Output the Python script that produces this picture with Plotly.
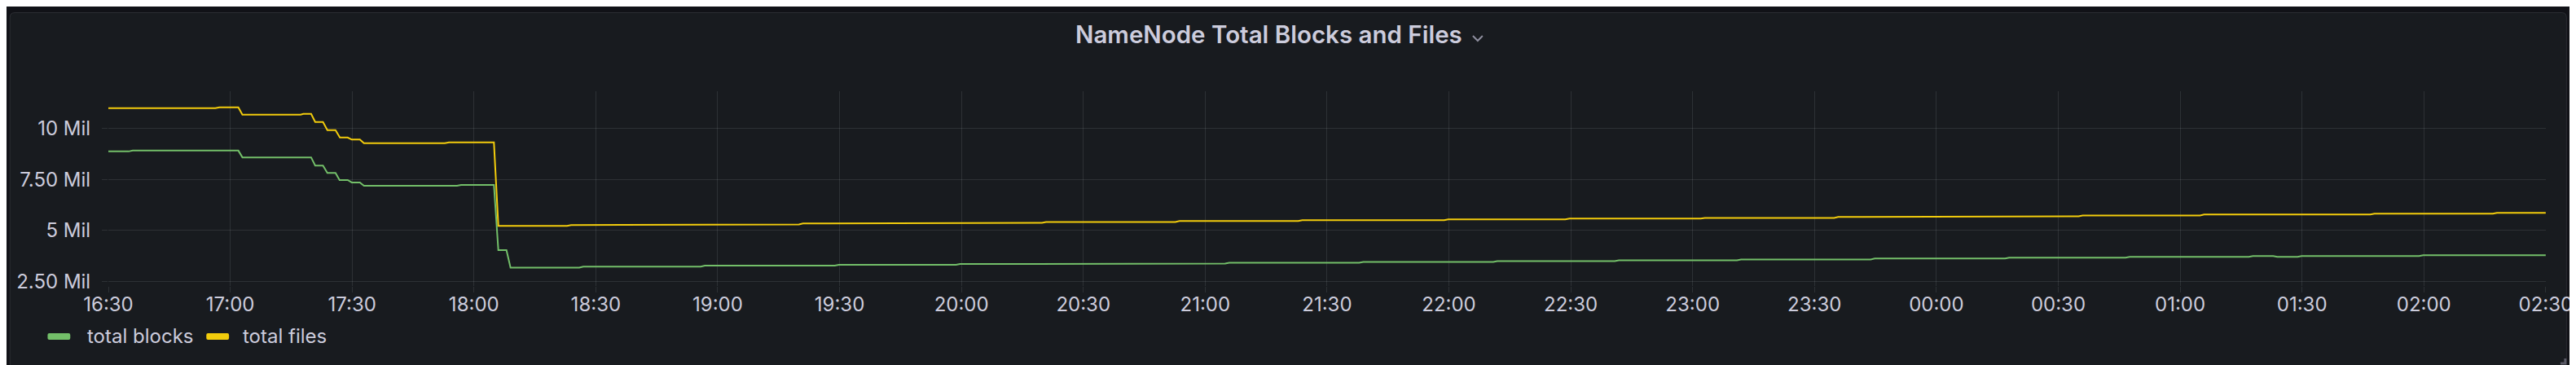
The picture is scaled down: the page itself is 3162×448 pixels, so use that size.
import plotly.graph_objects as go
from datetime import datetime, timedelta

# ---------------- data (values in millions) ----------------
D1 = "2024-01-01 "
D2 = "2024-01-02 "

files_time = [
    D1 + "16:30:00", D1 + "16:56:20", D1 + "16:57:20", D1 + "17:02:00", D1 + "17:03:00",
    D1 + "17:17:20", D1 + "17:18:00", D1 + "17:19:55", D1 + "17:20:55", D1 + "17:22:50",
    D1 + "17:23:55", D1 + "17:25:55", D1 + "17:27:00", D1 + "17:28:55", D1 + "17:29:55",
    D1 + "17:31:55", D1 + "17:32:55", D1 + "17:52:50", D1 + "17:53:50", D1 + "18:04:55",
    D1 + "18:06:00", D1 + "18:22:55", D1 + "18:23:55", D1 + "18:46:50", D1 + "18:47:50",
    D1 + "19:20:00", D1 + "19:21:00", D1 + "19:49:35", D1 + "19:50:35", D1 + "20:19:50",
    D1 + "20:20:50", D1 + "20:52:40", D1 + "20:53:40", D1 + "21:22:55", D1 + "21:23:55",
    D1 + "21:58:50", D1 + "21:59:50", D1 + "22:28:40", D1 + "22:29:40", D1 + "23:02:00",
    D1 + "23:03:00", D1 + "23:34:50", D1 + "23:35:50", D2 + "00:04:55", D2 + "00:05:55",
    D2 + "00:35:00", D2 + "00:36:00", D2 + "01:04:55", D2 + "01:05:55", D2 + "01:46:50",
    D2 + "01:47:50", D2 + "02:17:00", D2 + "02:18:00", D2 + "02:30:00",
]
files_value = [
    10.99, 10.99, 11.03, 11.03, 10.67,
    10.67, 10.71, 10.71, 10.31, 10.31,
    9.91, 9.91, 9.55, 9.55, 9.45,
    9.45, 9.27, 9.27, 9.31, 9.31,
    5.22, 5.22, 5.26, 5.26, 5.29,
    5.29, 5.34, 5.34, 5.37, 5.37,
    5.41, 5.41, 5.46, 5.46, 5.50,
    5.50, 5.54, 5.54, 5.58, 5.58,
    5.61, 5.61, 5.66, 5.66, 5.69,
    5.69, 5.73, 5.73, 5.78, 5.78,
    5.82, 5.82, 5.86, 5.86,
]

blocks_time = [
    D1 + "16:30:00", D1 + "16:35:00", D1 + "16:36:00", D1 + "17:02:00", D1 + "17:03:00",
    D1 + "17:19:55", D1 + "17:20:55", D1 + "17:22:50", D1 + "17:23:55", D1 + "17:25:55",
    D1 + "17:26:55", D1 + "17:28:55", D1 + "17:29:55", D1 + "17:31:55", D1 + "17:32:55",
    D1 + "17:55:50", D1 + "17:56:50", D1 + "18:04:55", D1 + "18:06:00", D1 + "18:08:00",
    D1 + "18:09:00", D1 + "18:25:55", D1 + "18:26:55", D1 + "18:55:50", D1 + "18:56:50",
    D1 + "19:28:50", D1 + "19:29:50", D1 + "19:58:40", D1 + "19:59:40", D1 + "20:31:50",
    D1 + "20:32:50", D1 + "21:04:55", D1 + "21:05:55", D1 + "21:37:55", D1 + "21:38:55",
    D1 + "22:10:55", D1 + "22:11:55", D1 + "22:40:50", D1 + "22:41:50", D1 + "23:10:55",
    D1 + "23:11:55", D1 + "23:43:50", D1 + "23:44:50", D2 + "00:16:55", D2 + "00:17:55",
    D2 + "00:46:35", D2 + "00:47:35", D2 + "01:16:55", D2 + "01:17:55", D2 + "01:22:55",
    D2 + "01:23:55", D2 + "01:28:55", D2 + "01:29:55", D2 + "01:58:50", D2 + "01:59:50",
    D2 + "02:30:00",
]
blocks_value = [
    8.87, 8.87, 8.91, 8.91, 8.58,
    8.58, 8.18, 8.18, 7.82, 7.82,
    7.47, 7.47, 7.35, 7.35, 7.19,
    7.19, 7.23, 7.23, 4.03, 4.03,
    3.17, 3.17, 3.22, 3.22, 3.27,
    3.27, 3.31, 3.31, 3.35, 3.35,
    3.37, 3.37, 3.41, 3.41, 3.45,
    3.45, 3.49, 3.49, 3.53, 3.53,
    3.57, 3.57, 3.62, 3.62, 3.66,
    3.66, 3.70, 3.70, 3.74, 3.74,
    3.70, 3.70, 3.74, 3.74, 3.78,
    3.78,
]

y_tick_values = [2.5, 5, 7.5, 10]
y_tick_labels = ["2.50 Mil", "5 Mil", "7.50 Mil", "10 Mil"]

x_start = datetime(2024, 1, 1, 16, 30)
x_end = datetime(2024, 1, 2, 2, 30)
x_tick_values = [x_start + timedelta(minutes=30 * i) for i in range(21)]
x_tick_labels = [t.strftime("%H:%M") for t in x_tick_values]

series_names = ["total blocks", "total files"]
series_colors = ["#73BF69", "#F2CC0C"]

title_text = "NameNode Total Blocks and Files"

# ---------------- layout geometry (pixels) ----------------
W, H = 3162, 448
ML, MR, MT, MB = 124, 28, 104, 105
PW = W - ML - MR
PH = H - MT - MB


def px(x):
    return (x - ML) / PW


def py(y):
    return (H - MB - y) / PH


TEXT = "#ccccdc"
GRID = "rgba(240,250,255,0.10)"
FONT = "Inter, Roboto, sans-serif"

fig = go.Figure()
fig.add_trace(go.Scatter(x=blocks_time, y=blocks_value, mode="lines", name=series_names[0],
                         line=dict(color=series_colors[0], width=2), showlegend=False,
                         hoverinfo="skip"))
fig.add_trace(go.Scatter(x=files_time, y=files_value, mode="lines", name=series_names[1],
                         line=dict(color=series_colors[1], width=2), showlegend=False,
                         hoverinfo="skip"))


def rounded_rect(x0, y0, x1, y1, r):
    pts = [
        (x0 + r, y0), (x1 - r, y0), (x1, y0 + r), (x1, y1 - r),
        (x1 - r, y1), (x0 + r, y1), (x0, y1 - r), (x0, y0 + r),
    ]
    P = [(px(a), py(b)) for a, b in pts]
    c = [(px(x1), py(y0)), (px(x1), py(y1)), (px(x0), py(y1)), (px(x0), py(y0))]
    return (f"M{P[0][0]},{P[0][1]} L{P[1][0]},{P[1][1]} Q{c[0][0]},{c[0][1]} {P[2][0]},{P[2][1]} "
            f"L{P[3][0]},{P[3][1]} Q{c[1][0]},{c[1][1]} {P[4][0]},{P[4][1]} "
            f"L{P[5][0]},{P[5][1]} Q{c[2][0]},{c[2][1]} {P[6][0]},{P[6][1]} "
            f"L{P[7][0]},{P[7][1]} Q{c[3][0]},{c[3][1]} {P[0][0]},{P[0][1]} Z")


shapes = [
    dict(type="path", xref="paper", yref="paper", layer="below",
         path=rounded_rect(2.5, 7.5, 3159.5, 444.5, 6),
         fillcolor="#181b1f", line=dict(color="rgba(204,204,220,0.12)", width=1)),
    # title chevron
    dict(type="path", xref="paper", yref="paper",
         path=f"M{px(1809)},{py(36)} L{px(1815)},{py(42)} L{px(1821)},{py(36)}",
         line=dict(color="#8e8e9e", width=2)),
    # panel resize corner
    dict(type="path", xref="paper", yref="paper",
         path=f"M{px(3152)},{py(438)} L{px(3158)},{py(438)} L{px(3158)},{py(432)}",
         line=dict(color="#5a5a66", width=3)),
]

annotations = [
    dict(text=title_text, xref="paper", yref="paper", x=px(1557), y=py(34),
         xanchor="center", yanchor="middle", showarrow=False,
         font=dict(family=FONT, size=29.5, color=TEXT, weight=600)),
]

legend_items = [(49, 96), (245, 288)]
for (sx, tx), name, col in zip(legend_items, series_names, series_colors):
    shapes.append(dict(type="path", xref="paper", yref="paper",
                       path=rounded_rect(sx, 401, sx + 28, 409, 2),
                       fillcolor=col, line=dict(width=0)))
    annotations.append(dict(text=name, xref="paper", yref="paper", x=px(tx), y=py(404),
                            xanchor="left", yanchor="middle", showarrow=False,
                            font=dict(family=FONT, size=24, color=TEXT)))

fig.update_layout(
    width=W, height=H, autosize=False,
    margin=dict(l=ML, r=MR, t=MT, b=MB, pad=0),
    paper_bgcolor="#111217",
    plot_bgcolor="rgba(0,0,0,0)",
    font=dict(family=FONT, color=TEXT, size=24),
    shapes=shapes,
    annotations=annotations,
    showlegend=False,
    hovermode=False,
)

fig.update_xaxes(
    type="date", range=[x_start, x_end + timedelta(seconds=2)],
    tickvals=x_tick_values, ticktext=x_tick_labels,
    showgrid=True, gridcolor=GRID, gridwidth=1,
    ticks="outside", ticklen=7, tickcolor=GRID, tickwidth=1,
    ticklabelstandoff=-6, ticklabeloverflow="allow",
    showline=False, zeroline=False,
    tickfont=dict(family=FONT, size=24, color=TEXT),
)
fig.update_yaxes(
    range=[2.275, 11.82],
    tickvals=y_tick_values, ticktext=y_tick_labels,
    showgrid=True, gridcolor=GRID, gridwidth=1,
    ticks="outside", ticklen=7, tickcolor=GRID, tickwidth=1,
    ticklabelstandoff=9,
    showline=False, zeroline=False,
    tickfont=dict(family=FONT, size=24, color=TEXT),
)

fig.write_html("out.html")
